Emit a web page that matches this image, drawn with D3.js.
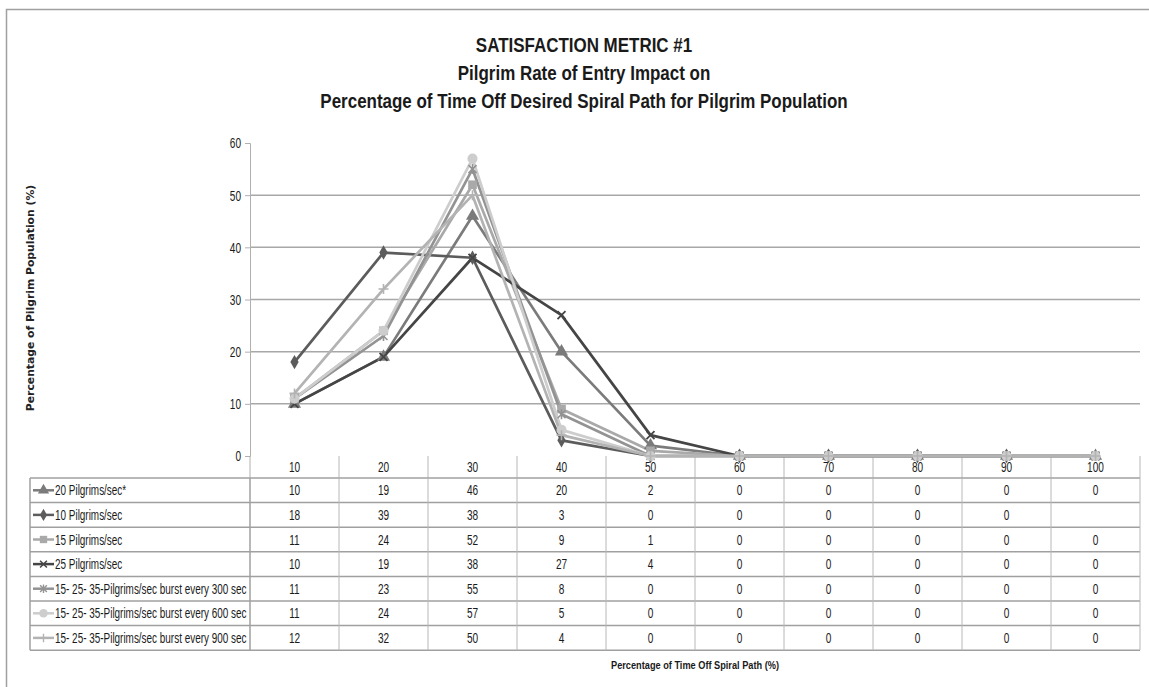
<!DOCTYPE html>
<html><head><meta charset="utf-8">
<script src="https://cdn.jsdelivr.net/npm/d3@7"></script>
<style>
html,body{margin:0;padding:0;background:#fff;}
svg{display:block;}
text{font-family:"Liberation Sans",Arial,sans-serif;}
</style></head>
<body>
<svg id="c" width="1149" height="687"></svg>
<script>
const categories = ["10","20","30","40","50","60","70","80","90","100"];
const seriesNames = [
  "20 Pilgrims/sec*",
  "10 Pilgrims/sec",
  "15 Pilgrims/sec",
  "25 Pilgrims/sec",
  "15- 25- 35-Pilgrims/sec burst every 300 sec",
  "15- 25- 35-Pilgrims/sec burst every 600 sec",
  "15- 25- 35-Pilgrims/sec burst every 900 sec"
];
const s20 = [10,19,46,20,2,0,0,0,0,0];
const s10 = [18,39,38,3,0,0,0,0,0,null];
const s15 = [11,24,52,9,1,0,0,0,0,0];
const s25 = [10,19,38,27,4,0,0,0,0,0];
const sB300 = [11,23,55,8,0,0,0,0,0,0];
const sB600 = [11,24,57,5,0,0,0,0,0,0];
const sB900 = [12,32,50,4,0,0,0,0,0,0];
const yTicks = [0,10,20,30,40,50,60];
const titleLines = ["SATISFACTION METRIC #1","Pilgrim Rate of Entry Impact on","Percentage of Time Off Desired Spiral Path for Pilgrim Population"];
const yTitle = "Percentage of Pilgrim Population (%)";
const xTitle = "Percentage of Time Off Spiral Path (%)";

const seriesValues = [s20,s10,s15,s25,sB300,sB600,sB900];
const colors = ["#7b7b7b","#5c5c5c","#a9a9a9","#454545","#939393","#cdcdcd","#b3b3b3"];
const markers = ["triangle","diamond","square","x","asterisk","circle","plus"];

const svg = d3.select("#c");
const L = 250, R = 1140, T = 143, B = 456;
const x = d3.scaleBand().domain(categories).range([L,R]);
const y = d3.scaleLinear().domain([0,60]).range([B,T]);

// narrow text: horizontal compression via transform
function ntext(parent, tx, ty, str, size, f, anchor, bold){
  const g = parent.append("g").attr("transform",`translate(${tx},${ty}) scale(${f},1)`);
  return g.append("text").attr("x",0).attr("y",0).attr("text-anchor",anchor||"start")
    .attr("font-size",size).attr("font-weight",bold?"bold":null).attr("fill","#1a1a1a").text(str);
}

// frame
svg.append("path").attr("d","M6.5,687 L6.5,9.5 L1149,9.5").attr("fill","none").attr("stroke","#a0a0a0").attr("stroke-width",1.5);

// titles
titleLines.forEach((t,i)=>{ ntext(svg, 584, 52+i*28, t, 19.5, 0.87, "middle", true); });

// gridlines
svg.append("g").selectAll("line").data(yTicks.filter(d=>d>0 && d<60)).join("line")
  .attr("x1",L).attr("x2",R).attr("y1",d=>y(d)).attr("y2",d=>y(d))
  .attr("stroke","#a8a8a8").attr("stroke-width",1.5);

// y axis
const ya = svg.append("g").attr("transform",`translate(${L},0)`)
  .call(d3.axisLeft(y).tickValues(yTicks).tickSize(5).tickPadding(4));
ya.select(".domain").attr("stroke","#b0b0b0");
ya.selectAll(".tick line").attr("stroke","#b0b0b0");
const fT = 0.72;
ya.selectAll(".tick text").attr("font-size",14).attr("fill","#1a1a1a").style("font-family",null)
  .attr("x",-9/fT).attr("dy","0.35em").attr("transform",`scale(${fT},1)`);
// extend axis down through header row
svg.append("line").attr("x1",L).attr("x2",L).attr("y1",B).attr("y2",478).attr("stroke","#b0b0b0");

// y title
svg.append("text").attr("transform","translate(34,298) rotate(-90)").attr("text-anchor","middle")
  .attr("font-size",10.8).attr("font-weight","bold").style("font-family","'DejaVu Sans',Verdana,sans-serif")
  .attr("fill","#222").text(yTitle);

// table
const rowTop = 478, rowH = 24.6, nRows = seriesNames.length;
const tLeft = 30;
const tg = svg.append("g");
// header row
categories.forEach(c=>ntext(tg, x(c)+x.bandwidth()/2, 472, c, 14, fT, "middle"));
// vertical lines in header
tg.selectAll("line.hv").data(categories.slice(1).concat(["end"])).join("line").attr("class","hv")
  .attr("x1",d=>d==="end"?R:x(d)).attr("x2",d=>d==="end"?R:x(d))
  .attr("y1",B).attr("y2",rowTop).attr("stroke","#b8b8b8");
// horizontal row lines
tg.selectAll("line.rh").data(d3.range(nRows+1)).join("line").attr("class","rh")
  .attr("x1",tLeft).attr("x2",R).attr("y1",i=>rowTop+i*rowH).attr("y2",i=>rowTop+i*rowH)
  .attr("stroke","#a0a0a0").attr("stroke-width",1.5);
// vertical lines table body
const vxs = [tLeft, L].concat(categories.slice(1).map(c=>x(c))).concat([R]);
tg.selectAll("line.rv").data(vxs).join("line").attr("class","rv")
  .attr("x1",d=>d).attr("x2",d=>d).attr("y1",rowTop).attr("y2",rowTop+nRows*rowH)
  .attr("stroke",(d,i)=>i<2?"#a0a0a0":"#b8b8b8").attr("stroke-width",(d,i)=>i<2?1.5:1);

function drawMarker(g, cx, cy, type, col, s){
  s = s||1;
  const gg = g.append("g").attr("transform",`translate(${cx},${cy}) scale(${s})`);
  if(type==="triangle"){
    gg.append("path").attr("d",d3.symbol(d3.symbolTriangle,75)()).attr("fill",col);
  } else if(type==="diamond"){
    gg.append("path").attr("d",d3.symbol(d3.symbolDiamond,60)()).attr("fill",col);
  } else if(type==="square"){
    gg.append("path").attr("d",d3.symbol(d3.symbolSquare,75)()).attr("fill",col);
  } else if(type==="circle"){
    gg.append("path").attr("d",d3.symbol(d3.symbolCircle,80)()).attr("fill",col);
  } else if(type==="x"){
    gg.append("path").attr("d","M-4,-4L4,4M-4,4L4,-4").attr("stroke",col).attr("stroke-width",1.8).attr("fill","none");
  } else if(type==="asterisk"){
    gg.append("path").attr("d","M-4,-4L4,4M-4,4L4,-4M0,-5L0,5").attr("stroke",col).attr("stroke-width",1.6).attr("fill","none");
  } else if(type==="plus"){
    gg.append("path").attr("d","M-5,0L5,0M0,-5L0,5").attr("stroke",col).attr("stroke-width",1.6).attr("fill","none");
  }
}

// cell values + legend
seriesValues.forEach((vals,si)=>{
  const cy = rowTop + si*rowH + rowH/2 + 5;
  vals.forEach((v,i)=>{ if(v!==null) ntext(tg, x(categories[i])+x.bandwidth()/2, cy, String(v), 14, fT, "middle"); });
  const lg = tg.append("g").attr("transform",`translate(0,${rowTop+si*rowH+rowH/2})`);
  lg.append("line").attr("x1",33).attr("x2",54).attr("y1",0).attr("y2",0).attr("stroke",colors[si]).attr("stroke-width",2.5);
  drawMarker(lg, 43.5, 0, markers[si], colors[si], 0.85);
  ntext(lg, 55, 5, seriesNames[si], 14, 0.71, "start");
});

// x title
ntext(svg, (L+R)/2, 669, xTitle, 11.5, 0.8, "middle", true);

// series lines
const line = d3.line().defined(d=>d.v!==null).x(d=>x(d.c)+x.bandwidth()/2).y(d=>y(d.v));
const pg = svg.append("g");
seriesValues.forEach((vals,si)=>{
  const pts = vals.map((v,i)=>({c:categories[i],v}));
  pg.append("path").datum(pts).attr("d",line).attr("fill","none").attr("stroke",colors[si]).attr("stroke-width",2.7).attr("stroke-linejoin","round");
});
seriesValues.forEach((vals,si)=>{
  vals.forEach((v,i)=>{
    if(v===null) return;
    drawMarker(pg, x(categories[i])+x.bandwidth()/2, y(v), markers[si], colors[si], 1);
  });
});
</script>
</body></html>
